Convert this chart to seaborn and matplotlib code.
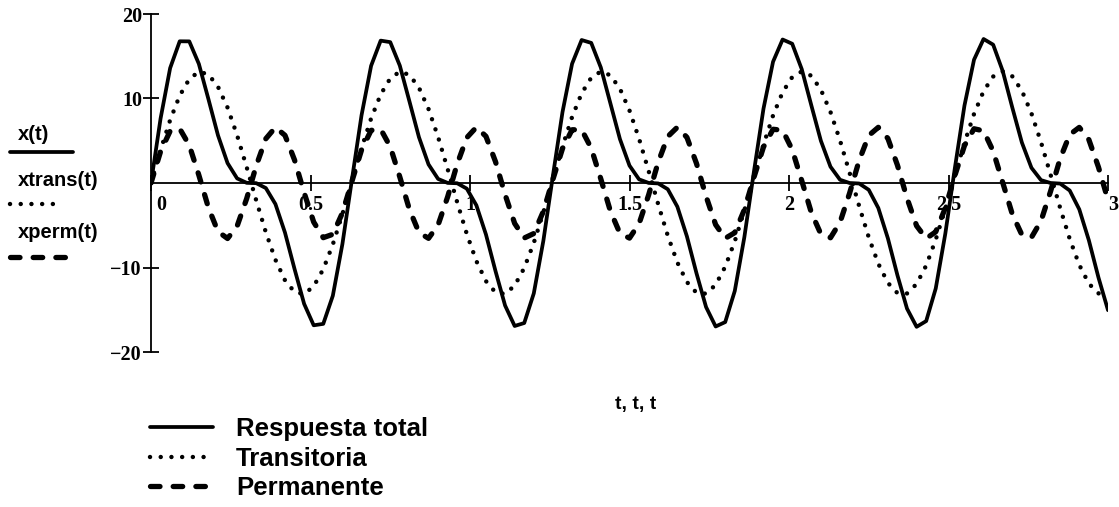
import numpy as np
import pandas as pd
import matplotlib
matplotlib.use("Agg")
import matplotlib.pyplot as plt
from matplotlib.lines import Line2D
from matplotlib.transforms import ScaledTranslation
import seaborn as sns

# sample times, 0 .. 3 s every 0.03 s
t = np.linspace(0, 3, 101)

x_total = [0.00, 7.63, 13.60, 16.77, 16.76, 14.10, 9.93, 5.64, 2.35, 0.54,
           0.02, -0.02, -0.60, -2.49, -5.87, -10.18, -14.30, -16.84, -16.67, -13.34,
           -7.23, 0.44, 8.02, 13.87, 16.85, 16.67, 13.89, 9.68, 5.42, 2.20,
           0.48, 0.01, -0.03, -0.67, -2.64, -6.09, -10.43, -14.50, -16.92, -16.57,
           -13.06, -6.83, 0.88, 8.40, 14.11, 16.92, 16.58, 13.68, 9.44, 5.20,
           2.06, 0.43, 0.01, -0.05, -0.74, -2.80, -6.32, -10.68, -14.68, -16.98,
           -16.46, -12.78, -6.42, 1.33, 8.79, 14.35, 16.98, 16.48, 13.47, 9.19,
           4.99, 1.93, 0.38, 0.00, -0.06, -0.81, -2.96, -6.55, -10.93, -14.87,
           -17.02, -16.34, -12.48, -6.00, 1.78, 9.16, 14.59, 17.04, 16.37, 13.25,
           8.93, 4.79, 1.80, 0.34, 0.00, -0.07, -0.89, -3.12, -6.78, -11.17,
           -15.05]

x_trans = [0.00, 3.90, 7.45, 10.34, 12.30, 13.17, 12.85, 11.39, 8.92, 5.64,
           1.86, -2.08, -5.84, -9.08, -11.51, -12.90, -13.15, -12.22, -10.20, -7.27,
           -3.69, 0.22, 4.11, 7.64, 10.48, 12.38, 13.18, 12.80, 11.28, 8.75,
           5.44, 1.64, -2.30, -6.04, -9.24, -11.61, -12.95, -13.13, -12.14, -10.06,
           -7.08, -3.48, 0.44, 4.32, 7.81, 10.61, 12.46, 13.19, 12.75, 11.16,
           8.58, 5.24, 1.42, -2.52, -6.24, -9.40, -11.72, -12.99, -13.10, -12.05,
           -9.91, -6.90, -3.26, 0.67, 4.53, 7.99, 10.74, 12.53, 13.20, 12.69,
           11.04, 8.41, 5.03, 1.20, -2.74, -6.43, -9.55, -11.82, -13.03, -13.07,
           -11.95, -9.77, -6.70, -3.04, 0.89, 4.74, 8.17, 10.87, 12.60, 13.20,
           12.62, 10.92, 8.24, 4.83, 0.98, -2.95, -6.62, -9.70, -11.91, -13.06,
           -13.04]

x_perm = [0.00, 3.73, 6.15, 6.43, 4.46, 0.93, -2.92, -5.75, -6.57, -5.10,
          -1.84, 2.06, 5.24, 6.59, 5.64, 2.72, -1.15, -4.62, -6.47, -6.07,
          -3.54, 0.22, 3.91, 6.23, 6.37, 4.29, 0.71, -3.12, -5.86, -6.55,
          -4.96, -1.63, 2.27, 5.37, 6.60, 5.52, 2.52, -1.37, -4.78, -6.51,
          -5.98, -3.35, 0.44, 4.08, 6.30, 6.31, 4.12, 0.49, -3.31, -5.96,
          -6.52, -4.81, -1.41, 2.47, 5.50, 6.60, 5.40, 2.31, -1.58, -4.93,
          -6.55, -5.88, -3.16, 0.66, 4.26, 6.36, 6.24, 3.95, 0.27, -3.50,
          -6.05, -6.48, -4.65, -1.20, 2.68, 5.62, 6.59, 5.27, 2.10, -1.80,
          -5.07, -6.57, -5.78, -2.96, 0.89, 4.42, 6.42, 6.17, 3.77, 0.05,
          -3.69, -6.13, -6.44, -4.49, -0.98, 2.88, 5.73, 6.58, 5.13, 1.89,
          -2.01]

series_names = ["Respuesta total", "Transitoria", "Permanente"]
func_names = ["x(t)", "xtrans(t)", "xperm(t)"]
xticks = [0, 0.5, 1, 1.5, 2, 2.5, 3]
xtick_labels = ["0", "0.5", "1", "1.5", "2", "2.5", "3"]
yticks = [-20, -10, 10, 20]

df = pd.DataFrame({"t": t,
                   "Respuesta total": x_total,
                   "Transitoria": x_trans,
                   "Permanente": x_perm})

sns.set_style("ticks")
plt.rcParams["font.family"] = ["Liberation Sans", "DejaVu Sans"]
plt.rcParams["text.color"] = "black"
plt.rcParams["axes.edgecolor"] = "black"
plt.rcParams["xtick.color"] = "black"
plt.rcParams["ytick.color"] = "black"

styles = {
    "Respuesta total": dict(linestyle="-", lw=2.7),
    "Transitoria": dict(linestyle=(0, (0.01, 2.4)), lw=3.2, dash_capstyle="round"),
    "Permanente": dict(linestyle=(0, (1.8, 2.5)), lw=3.8, dash_capstyle="round"),
}

W, H = 1119, 507
fig = plt.figure(figsize=(W / 100, H / 100), dpi=100)
ax = fig.add_axes([151 / W, 1 - 352 / H, (1108 - 151) / W, (352 - 14) / H])

for name in series_names:
    sns.lineplot(data=df, x="t", y=name, ax=ax, color="black", label=name,
                 sort=False, estimator=None, **styles[name])

ax.set_xlim(0, 3)
ax.set_ylim(-20, 20)
ax.spines["top"].set_visible(False)
ax.spines["right"].set_visible(False)
ax.spines["bottom"].set_position(("data", 0))
for sp in ("left", "bottom"):
    ax.spines[sp].set_linewidth(1.3)

ax.set_xticks(xticks)
ax.set_xticklabels(xtick_labels)
ax.set_yticks(yticks)
ax.tick_params(axis="both", direction="inout", length=12, width=1.3)
ax.tick_params(axis="x", pad=2.5)
ax.tick_params(axis="y", pad=0.5)
for lab in ax.get_xticklabels() + ax.get_yticklabels():
    lab.set_fontfamily("Liberation Serif")
    lab.set_fontweight("bold")
    lab.set_fontsize(14.5)

# 0 and 3 sit to the right of their ticks
xl = ax.get_xticklabels()
xl[0].set_ha("left")
xl[0].set_transform(xl[0].get_transform() + ScaledTranslation(0.05, 0, fig.dpi_scale_trans))
xl[-1].set_ha("left")
xl[-1].set_transform(xl[-1].get_transform() + ScaledTranslation(0.005, 0, fig.dpi_scale_trans))

ax.set_xlabel("")
ax.set_ylabel("")
fig.text(636 / W, 1 - 405 / H, "t, t, t", ha="center", va="center",
         fontsize=14, fontweight="bold")

# stacked y label with line samples
label_y = [134, 180, 233]
sample_y = [152, 204, 257]
sample_end = [73, 63, 73]
for name, fn, ly, sy, se in zip(series_names, func_names, label_y, sample_y, sample_end):
    fig.text(18 / W, 1 - ly / H, fn, ha="left", va="center", fontsize=14.5, fontweight="bold")
    fig.add_artist(Line2D([10 / W, se / W], [1 - sy / H, 1 - sy / H],
                          transform=fig.transFigure, color="black", **styles[name]))

handles, labels = ax.get_legend_handles_labels()
ax.legend(handles, labels, loc="upper left", bbox_to_anchor=(150 / W, 1 - 417 / H),
          bbox_transform=fig.transFigure, frameon=False,
          prop={"family": "Liberation Sans", "weight": "bold", "size": 18.5},
          handlelength=2.45, handletextpad=0.9, labelspacing=0.22,
          borderpad=0, borderaxespad=0)

fig.savefig("out.png", dpi=100)
